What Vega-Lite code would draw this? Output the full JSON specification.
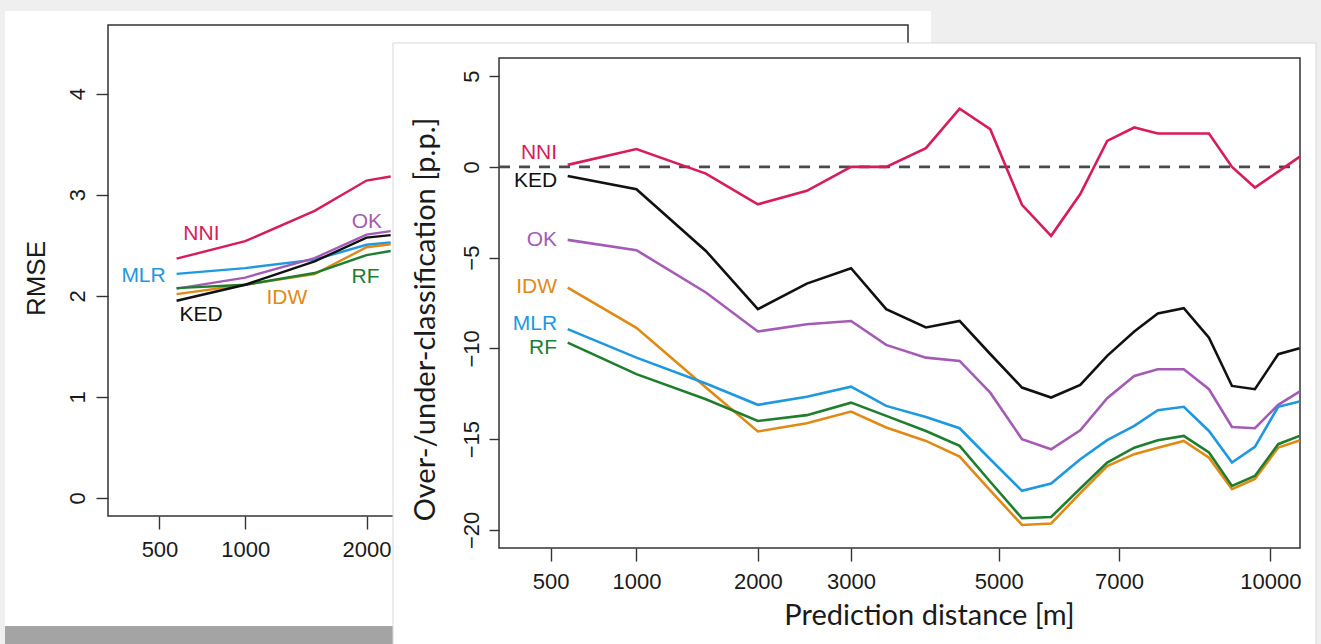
{
  "$schema": "https://vega.github.io/schema/vega-lite/v6.json",
  "background": "#efefef",
  "padding": {"left": 4, "top": 10, "right": 6, "bottom": 0},
  "width": 1192,
  "height": 523,
  "config": {
    "view": {"stroke": null}
  },
  "datasets": {
    "front": [
      {"d":586,"m":"NNI","v":0.11},{"d":1000,"m":"NNI","v":0.98},{"d":1530,"m":"NNI","v":-0.37},{"d":2000,"m":"NNI","v":-2.06},{"d":2500,"m":"NNI","v":-1.32},{"d":3000,"m":"NNI","v":0.0},{"d":3430,"m":"NNI","v":0.0},{"d":3950,"m":"NNI","v":1.03},{"d":4420,"m":"NNI","v":3.21},{"d":4870,"m":"NNI","v":2.08},{"d":5360,"m":"NNI","v":-2.09},{"d":5830,"m":"NNI","v":-3.8},{"d":6320,"m":"NNI","v":-1.5},{"d":6790,"m":"NNI","v":1.43},{"d":7280,"m":"NNI","v":2.17},{"d":7720,"m":"NNI","v":1.84},{"d":8220,"m":"NNI","v":1.84},{"d":8720,"m":"NNI","v":1.84},{"d":9190,"m":"NNI","v":0.0},{"d":9670,"m":"NNI","v":-1.14},{"d":10170,"m":"NNI","v":-0.26},{"d":10640,"m":"NNI","v":0.55},
      {"d":586,"m":"KED","v":-0.5},{"d":1000,"m":"KED","v":-1.23},{"d":1530,"m":"KED","v":-4.63},{"d":2000,"m":"KED","v":-7.84},{"d":2500,"m":"KED","v":-6.43},{"d":3000,"m":"KED","v":-5.58},{"d":3430,"m":"KED","v":-7.84},{"d":3950,"m":"KED","v":-8.85},{"d":4420,"m":"KED","v":-8.49},{"d":4870,"m":"KED","v":-10.31},{"d":5360,"m":"KED","v":-12.16},{"d":5830,"m":"KED","v":-12.71},{"d":6320,"m":"KED","v":-12.01},{"d":6790,"m":"KED","v":-10.41},{"d":7280,"m":"KED","v":-9.07},{"d":7720,"m":"KED","v":-8.08},{"d":8220,"m":"KED","v":-7.79},{"d":8720,"m":"KED","v":-9.41},{"d":9190,"m":"KED","v":-12.07},{"d":9670,"m":"KED","v":-12.25},{"d":10170,"m":"KED","v":-10.32},{"d":10640,"m":"KED","v":-9.99},
      {"d":586,"m":"OK","v":-4.02},{"d":1000,"m":"OK","v":-4.59},{"d":1530,"m":"OK","v":-6.92},{"d":2000,"m":"OK","v":-9.07},{"d":2500,"m":"OK","v":-8.67},{"d":3000,"m":"OK","v":-8.49},{"d":3430,"m":"OK","v":-9.81},{"d":3950,"m":"OK","v":-10.51},{"d":4420,"m":"OK","v":-10.69},{"d":4870,"m":"OK","v":-12.44},{"d":5360,"m":"OK","v":-15.0},{"d":5830,"m":"OK","v":-15.56},{"d":6320,"m":"OK","v":-14.51},{"d":6790,"m":"OK","v":-12.75},{"d":7280,"m":"OK","v":-11.52},{"d":7720,"m":"OK","v":-11.15},{"d":8220,"m":"OK","v":-11.15},{"d":8720,"m":"OK","v":-12.25},{"d":9190,"m":"OK","v":-14.33},{"d":9670,"m":"OK","v":-14.4},{"d":10170,"m":"OK","v":-13.11},{"d":10640,"m":"OK","v":-12.38},
      {"d":586,"m":"IDW","v":-6.65},{"d":1000,"m":"IDW","v":-8.87},{"d":1530,"m":"IDW","v":-12.16},{"d":2000,"m":"IDW","v":-14.58},{"d":2500,"m":"IDW","v":-14.13},{"d":3000,"m":"IDW","v":-13.48},{"d":3430,"m":"IDW","v":-14.36},{"d":3950,"m":"IDW","v":-15.1},{"d":4420,"m":"IDW","v":-15.96},{"d":4870,"m":"IDW","v":-17.83},{"d":5360,"m":"IDW","v":-19.73},{"d":5830,"m":"IDW","v":-19.65},{"d":6320,"m":"IDW","v":-17.98},{"d":6790,"m":"IDW","v":-16.48},{"d":7280,"m":"IDW","v":-15.83},{"d":7720,"m":"IDW","v":-15.47},{"d":8220,"m":"IDW","v":-15.1},{"d":8720,"m":"IDW","v":-16.02},{"d":9190,"m":"IDW","v":-17.76},{"d":9670,"m":"IDW","v":-17.2},{"d":10170,"m":"IDW","v":-15.47},{"d":10640,"m":"IDW","v":-15.08},
      {"d":586,"m":"MLR","v":-8.94},{"d":1000,"m":"MLR","v":-10.51},{"d":1530,"m":"MLR","v":-11.94},{"d":2000,"m":"MLR","v":-13.11},{"d":2500,"m":"MLR","v":-12.67},{"d":3000,"m":"MLR","v":-12.11},{"d":3430,"m":"MLR","v":-13.17},{"d":3950,"m":"MLR","v":-13.78},{"d":4420,"m":"MLR","v":-14.4},{"d":4870,"m":"MLR","v":-16.11},{"d":5360,"m":"MLR","v":-17.85},{"d":5830,"m":"MLR","v":-17.45},{"d":6320,"m":"MLR","v":-16.11},{"d":6790,"m":"MLR","v":-15.06},{"d":7280,"m":"MLR","v":-14.27},{"d":7720,"m":"MLR","v":-13.41},{"d":8220,"m":"MLR","v":-13.22},{"d":8720,"m":"MLR","v":-14.55},{"d":9190,"m":"MLR","v":-16.29},{"d":9670,"m":"MLR","v":-15.43},{"d":10170,"m":"MLR","v":-13.22},{"d":10640,"m":"MLR","v":-12.93},
      {"d":586,"m":"RF","v":-9.68},{"d":1000,"m":"RF","v":-11.42},{"d":1530,"m":"RF","v":-12.8},{"d":2000,"m":"RF","v":-14.0},{"d":2500,"m":"RF","v":-13.68},{"d":3000,"m":"RF","v":-12.99},{"d":3430,"m":"RF","v":-13.72},{"d":3950,"m":"RF","v":-14.55},{"d":4420,"m":"RF","v":-15.37},{"d":4870,"m":"RF","v":-17.35},{"d":5360,"m":"RF","v":-19.36},{"d":5830,"m":"RF","v":-19.29},{"d":6320,"m":"RF","v":-17.72},{"d":6790,"m":"RF","v":-16.29},{"d":7280,"m":"RF","v":-15.47},{"d":7720,"m":"RF","v":-15.06},{"d":8220,"m":"RF","v":-14.82},{"d":8720,"m":"RF","v":-15.74},{"d":9190,"m":"RF","v":-17.58},{"d":9670,"m":"RF","v":-17.03},{"d":10170,"m":"RF","v":-15.28},{"d":10640,"m":"RF","v":-14.82}
    ],
    "back": [
      {"d":586,"m":"NNI","v":2.367},{"d":1000,"m":"NNI","v":2.54},{"d":1530,"m":"NNI","v":2.84},{"d":2000,"m":"NNI","v":3.14},{"d":2240,"m":"NNI","v":3.18},
      {"d":586,"m":"MLR","v":2.217},{"d":1000,"m":"MLR","v":2.274},{"d":1530,"m":"MLR","v":2.357},{"d":2000,"m":"MLR","v":2.505},{"d":2240,"m":"MLR","v":2.527},
      {"d":586,"m":"OK","v":2.07},{"d":1000,"m":"OK","v":2.18},{"d":1530,"m":"OK","v":2.373},{"d":2000,"m":"OK","v":2.605},{"d":2240,"m":"OK","v":2.64},
      {"d":586,"m":"IDW","v":2.016},{"d":1000,"m":"IDW","v":2.109},{"d":1530,"m":"IDW","v":2.215},{"d":2000,"m":"IDW","v":2.48},{"d":2240,"m":"IDW","v":2.51},
      {"d":586,"m":"RF","v":2.076},{"d":1000,"m":"RF","v":2.109},{"d":1530,"m":"RF","v":2.225},{"d":2000,"m":"RF","v":2.403},{"d":2240,"m":"RF","v":2.443},
      {"d":586,"m":"KED","v":1.951},{"d":1000,"m":"KED","v":2.109},{"d":1530,"m":"KED","v":2.34},{"d":2000,"m":"KED","v":2.575},{"d":2240,"m":"KED","v":2.6}
    ],
    "frontLabels": [
      {"m":"NNI","lx":532,"ly":0.765},{"m":"KED","lx":532,"ly":-0.778},{"m":"OK","lx":532,"ly":-4.03},{"m":"IDW","lx":532,"ly":-6.62},{"m":"MLR","lx":532,"ly":-8.66},{"m":"RF","lx":532,"ly":-9.96}
    ],
    "backLabels": [
      {"m":"NNI","lx":723,"ly":2.614},{"m":"MLR","lx":426,"ly":2.196},{"m":"KED","lx":721,"ly":1.807},{"m":"OK","lx":2004,"ly":2.733},{"m":"IDW","lx":1305,"ly":1.981},{"m":"RF","lx":1990,"ly":2.186}
    ],
    "one": [{}]
  },
  "resolve": {"scale": {"x": "independent", "y": "independent"}, "axis": {"x": "independent", "y": "independent"}},
  "layer": [
    {
      "layer": [
        {
          "data": {"name": "one"},
          "mark": {"type": "rect", "fill": "#a4a4a4", "stroke": null},
          "encoding": {
            "x": {"datum": 32.2, "type": "quantitative", "scale": {"type": "sqrt", "domain": [282.24, 21180.7], "nice": false, "zero": false}},
            "x2": {"datum": 11169},
            "y": {"datum": -1.2687, "type": "quantitative", "scale": {"domain": [-0.4967, 4.68], "nice": false, "zero": false}},
            "y2": {"datum": -1.4568}
          }
        },
        {
          "data": {"name": "one"},
          "mark": {"type": "rect", "fill": "#ffffff", "stroke": null},
          "encoding": {
            "x": {"datum": 32.2, "type": "quantitative", "scale": {"type": "sqrt", "domain": [282.24, 21180.7], "nice": false, "zero": false}},
            "x2": {"datum": 11169},
            "y": {"datum": 4.8186, "type": "quantitative", "scale": {"domain": [-0.4967, 4.68], "nice": false, "zero": false}},
            "y2": {"datum": -1.2687}
          }
        },
        {
          "data": {"name": "one"},
          "mark": {"type": "rect", "filled": false, "stroke": "#333333", "strokeWidth": 1.5},
          "encoding": {
            "x": {"datum": 282.24, "type": "quantitative", "scale": {"type": "sqrt", "domain": [282.24, 21180.7], "nice": false, "zero": false}},
            "x2": {"datum": 10650.24},
            "y": {"datum": -0.18, "type": "quantitative", "scale": {"domain": [-0.4967, 4.68], "nice": false, "zero": false}},
            "y2": {"datum": 4.68}
          }
        },
        {
          "data": {"name": "back"},
          "mark": {"type": "line", "strokeWidth": 2.4},
          "encoding": {
            "x": {"field": "d", "type": "quantitative", "scale": {"type": "sqrt", "domain": [282.24, 21180.7], "nice": false, "zero": false},
                  "axis": {"orient": "bottom", "offset": -32, "zindex": 2, "grid": false, "domain": false, "values": [500, 1000, 2000], "format": "d", "tickSize": 13, "tickColor": "#333333", "tickWidth": 1.4, "labelFont": "Liberation Sans", "labelFontSize": 22, "labelColor": "#1a1a1a", "labelPadding": 10, "labelFlush": false, "labelOverlap": false, "title": null}},
            "y": {"field": "v", "type": "quantitative", "scale": {"domain": [-0.4967, 4.68], "nice": false, "zero": false},
                  "axis": {"orient": "left", "zindex": 2, "grid": false, "domain": false, "values": [0, 1, 2, 3, 4], "format": "d", "tickSize": 12, "tickColor": "#333333", "tickWidth": 1.4, "labelFont": "Liberation Sans", "labelFontSize": 22, "labelColor": "#1a1a1a", "labelAngle": 270, "labelAlign": "center", "labelBaseline": "alphabetic", "labelPadding": 12, "labelFlush": false, "labelOverlap": false,
                           "title": "RMSE", "titleColor": "#1a1a1a", "titleFontWeight": "normal", "titleFont": "Liberation Sans", "titleFontSize": 26, "titleAngle": 270, "titleX": -64, "titleY": 253, "titleAlign": "center", "titleBaseline": "alphabetic"}},
            "color": {"field": "m", "type": "nominal", "scale": {"domain": ["NNI", "KED", "OK", "IDW", "MLR", "RF"], "range": ["#d81b5a", "#111111", "#a45bb5", "#e08a16", "#1e98de", "#1f7d2e"]}, "legend": null}
          }
        },
        {
          "data": {"name": "backLabels"},
          "mark": {"type": "text", "align": "center", "baseline": "middle", "font": "Liberation Sans", "fontSize": 21},
          "encoding": {
            "x": {"field": "lx", "type": "quantitative", "scale": {"type": "sqrt", "domain": [282.24, 21180.7], "nice": false, "zero": false}},
            "y": {"field": "ly", "type": "quantitative", "scale": {"domain": [-0.4967, 4.68], "nice": false, "zero": false}},
            "text": {"field": "m"},
            "color": {"field": "m", "type": "nominal", "legend": null}
          }
        }
      ]
    },
    {
      "layer": [
        {
          "data": {"name": "one"},
          "mark": {"type": "rect", "fill": "#ffffff", "stroke": "#d9d9d9", "strokeWidth": 1},
          "encoding": {
            "x": {"datum": 28.76, "type": "quantitative", "scale": {"type": "sqrt", "domain": [-644.1, 10650.24], "nice": false, "zero": false}},
            "x2": {"datum": 11009.5},
            "y": {"datum": 6.826, "type": "quantitative", "scale": {"domain": [-21, 7.818], "nice": false, "zero": false}},
            "y2": {"datum": -26.35}
          }
        },
        {
          "data": {"name": "one"},
          "mark": {"type": "rect", "filled": false, "stroke": "#333333", "strokeWidth": 1.5},
          "encoding": {
            "x": {"datum": 282.24, "type": "quantitative", "scale": {"type": "sqrt", "domain": [-644.1, 10650.24], "nice": false, "zero": false}},
            "x2": {"datum": 10650.24},
            "y": {"datum": -21, "type": "quantitative", "scale": {"domain": [-21, 7.818], "nice": false, "zero": false}},
            "y2": {"datum": 6}
          }
        },
        {
          "data": {"name": "one"},
          "mark": {"type": "rule", "stroke": "#4a4a4a", "strokeWidth": 2.6, "strokeDash": [11, 9]},
          "encoding": {
            "x": {"datum": 282.24, "type": "quantitative", "scale": {"type": "sqrt", "domain": [-644.1, 10650.24], "nice": false, "zero": false}},
            "x2": {"datum": 10650.24},
            "y": {"datum": 0, "type": "quantitative", "scale": {"domain": [-21, 7.818], "nice": false, "zero": false}}
          }
        },
        {
          "data": {"name": "front"},
          "mark": {"type": "line", "strokeWidth": 2.6},
          "encoding": {
            "x": {"field": "d", "type": "quantitative", "scale": {"type": "sqrt", "domain": [-644.1, 10650.24], "nice": false, "zero": false},
                  "axis": {"orient": "bottom", "zindex": 2, "grid": false, "domain": false, "values": [500, 1000, 2000, 3000, 5000, 7000, 10000], "format": "d", "tickSize": 13, "tickColor": "#333333", "tickWidth": 1.4, "labelFont": "Liberation Sans", "labelFontSize": 22, "labelColor": "#1a1a1a", "labelPadding": 10, "labelFlush": false, "labelOverlap": false,
                           "title": "Prediction distance [m]", "titleColor": "#1a1a1a", "titleFontWeight": "normal", "titleFont": "Lato", "titleFontSize": 29, "titleX": 821, "titleY": 76, "titleAlign": "center", "titleBaseline": "alphabetic"}},
            "y": {"field": "v", "type": "quantitative", "scale": {"domain": [-21, 7.818], "nice": false, "zero": false},
                  "axis": {"orient": "left", "offset": -391, "zindex": 2, "grid": false, "domain": false, "values": [-20, -15, -10, -5, 0, 5], "format": "d", "tickSize": 10, "tickColor": "#333333", "tickWidth": 1.4, "labelFont": "Liberation Sans", "labelFontSize": 22, "labelColor": "#1a1a1a", "labelAngle": 270, "labelAlign": "center", "labelBaseline": "alphabetic", "labelPadding": 11, "labelFlush": false, "labelOverlap": false,
                           "title": "Over-/under-classification [p.p.]", "titleColor": "#1a1a1a", "titleFontWeight": "normal", "titleFont": "Lato", "titleFontSize": 29, "titleAngle": 270, "titleX": -65, "titleY": 294, "titleAlign": "center", "titleBaseline": "alphabetic"}},
            "color": {"field": "m", "type": "nominal", "scale": {"domain": ["NNI", "KED", "OK", "IDW", "MLR", "RF"], "range": ["#d81b5a", "#111111", "#a45bb5", "#e08a16", "#1e98de", "#1f7d2e"]}, "legend": null}
          }
        },
        {
          "data": {"name": "frontLabels"},
          "mark": {"type": "text", "align": "right", "baseline": "middle", "font": "Liberation Sans", "fontSize": 21},
          "encoding": {
            "x": {"field": "lx", "type": "quantitative", "scale": {"type": "sqrt", "domain": [-644.1, 10650.24], "nice": false, "zero": false}},
            "y": {"field": "ly", "type": "quantitative", "scale": {"domain": [-21, 7.818], "nice": false, "zero": false}},
            "text": {"field": "m"},
            "color": {"field": "m", "type": "nominal", "legend": null}
          }
        }
      ]
    }
  ]
}
